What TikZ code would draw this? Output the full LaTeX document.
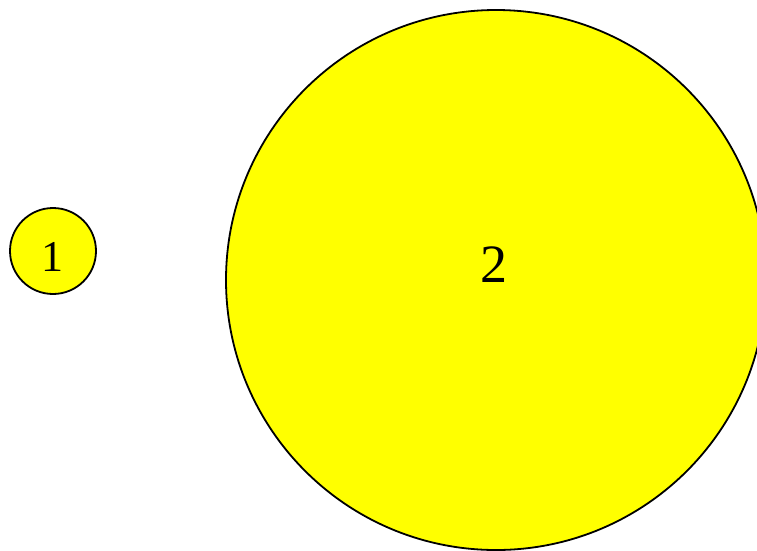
\documentclass[tikz,border=0pt]{standalone}
\usepackage{fontspec}
\setmainfont{Liberation Serif}
\usepackage{tikz}
\usetikzlibrary{positioning}

\definecolor{ballyellow}{RGB}{255,255,0}

\begin{document}
\begin{tikzpicture}[
    x=1pt, y=-1pt,
    % --- STYLES ---
    ball/.style={
        circle, draw=black, fill=ballyellow,
        line width=1.8pt, inner sep=0pt
    },
    num/.style={font=\fontsize{44}{44}\selectfont, inner sep=0pt}
]

% ===== FRAME =====
\clip (0,0) rectangle (757,550);
\useasboundingbox (0,0) rectangle (757,550);

% ===== CIRCLES =====
\node[ball, minimum size=86pt] (small) at (53,251) {};
\node[ball, minimum size=540pt] (big) at (496,280) {};

% ===== LABELS =====
\node[num] (lab1) at (52,257) {1};
\node[num, font=\fontsize{54}{54}\selectfont] (lab2) at (494,265) {2};

\end{tikzpicture}
\end{document}
